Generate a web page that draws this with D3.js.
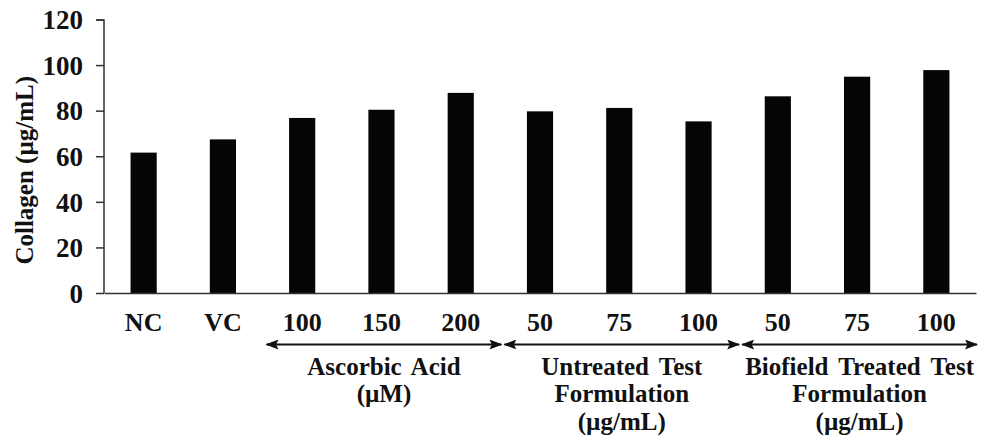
<!DOCTYPE html>
<html lang="en">
  <head>
    <meta charset="utf-8">
    <title>Collagen bar chart</title>
    <script src="https://d3js.org/d3.v7.js"></script>
    <style>
      html, body { margin: 0; padding: 0; background: white; overflow: hidden; }
      svg { display: block; }
      text { font-family: "Liberation Serif", "Times New Roman", serif; font-weight: bold; fill: #111; }
    </style>
  </head>

  <body>
    <script>

      // data
      const categories = ["NC", "VC", "AA100", "AA150", "AA200", "UT50", "UT75", "UT100", "BT50", "BT75", "BT100"];
      const tickLabels = ["NC", "VC", "100", "150", "200", "50", "75", "100", "50", "75", "100"];
      const collagen = [61.6, 67.4, 76.8, 80.4, 87.8, 79.7, 81.2, 75.3, 86.3, 94.9, 97.8];
      const yTicks = [0, 20, 40, 60, 80, 100, 120];

      const groupNames = [["Ascorbic Acid", "(\u00b5M)"],
                          ["Untreated Test", "Formulation", "(\u00b5g/mL)"],
                          ["Biofield Treated Test", "Formulation", "(\u00b5g/mL)"]];
      const groupFirst = ["AA100", "UT50", "BT50"];
      const groupLast = ["AA200", "UT100", "BT100"];

      const w = 989;
      const h = 441;
      const margin = {top: 19.5, right: 13, bottom: 148, left: 104};
      const innerWidth = w - margin.left - margin.right;
      const innerHeight = h - margin.top - margin.bottom;

      const xScale = d3.scaleBand()
                       .domain(categories)
                       .range([0, innerWidth])
                       .paddingInner(0.67)
                       .paddingOuter(0.335);

      const yScale = d3.scaleLinear()
                       .domain([0, 120])
                       .range([innerHeight, 0]);

      const svg = d3.select("body")
                    .append("svg")
                    .attr("width", w)
                    .attr("height", h);

      svg.append("rect")
         .attr("width", w)
         .attr("height", h)
         .attr("fill", "white");

      const plot = svg.append("g")
                      .attr("transform", `translate(${margin.left}, ${margin.top})`);

      // bars
      plot.selectAll("rect.bar")
          .data(categories)
          .enter().append("rect")
          .attr("class", "bar")
          .attr("x", d => xScale(d))
          .attr("y", (d, i) => yScale(collagen[i]))
          .attr("width", xScale.bandwidth())
          .attr("height", (d, i) => innerHeight - yScale(collagen[i]))
          .attr("fill", "#050505");

      // y axis
      const yAxis = d3.axisLeft(yScale)
                      .tickValues(yTicks)
                      .tickSize(8)
                      .tickPadding(13);

      const gy = plot.append("g").call(yAxis);
      gy.select(".domain").attr("stroke", "#333").attr("stroke-width", 1.5).attr("d", `M-8,0.5H0V${innerHeight}`);
      gy.selectAll(".tick line").attr("stroke", "#333").attr("stroke-width", 1.5);
      gy.selectAll(".tick text")
        .style("font-size", "27px")
        .attr("dy", "0.34em");

      // x axis
      const xAxis = d3.axisBottom(xScale)
                      .tickSize(0)
                      .tickPadding(20)
                      .tickFormat((d, i) => tickLabels[i]);

      const gx = plot.append("g")
                     .attr("transform", `translate(0, ${innerHeight})`)
                     .call(xAxis);
      gx.select(".domain").attr("stroke", "#333").attr("stroke-width", 1.5);
      gx.selectAll(".tick text")
        .style("font-size", "26px");

      // y axis title
      svg.append("text")
         .attr("transform", `translate(33, ${margin.top + innerHeight / 2 + 14}) rotate(-90)`)
         .attr("text-anchor", "middle")
         .style("font-size", "25px")
         .text("Collagen (\u00b5g/mL)");

      // group arrows and labels
      const defs = svg.append("defs");
      defs.append("marker")
          .attr("id", "arrow")
          .attr("viewBox", "0 0 13 10")
          .attr("refX", 12)
          .attr("refY", 5)
          .attr("markerWidth", 13)
          .attr("markerHeight", 10)
          .attr("markerUnits", "userSpaceOnUse")
          .attr("orient", "auto-start-reverse")
          .append("path")
          .attr("d", "M0,0L13,5L0,10L2.5,5z")
          .attr("fill", "#111");

      const arrowY = innerHeight + 51.5;
      groupNames.forEach((lines, gi) => {
        const x0 = xScale(groupFirst[gi]) - xScale.step() * xScale.paddingInner() / 2 + 4;
        const x1 = xScale(groupLast[gi]) + xScale.bandwidth() + xScale.step() * xScale.paddingInner() / 2 + 1;
        plot.append("line")
            .attr("x1", x0)
            .attr("x2", x1)
            .attr("y1", arrowY)
            .attr("y2", arrowY)
            .attr("stroke", "#111")
            .attr("stroke-width", 2)
            .attr("marker-start", "url(#arrow)")
            .attr("marker-end", "url(#arrow)");
        const cx = (x0 + x1) / 2;
        lines.forEach((t, li) => {
          plot.append("text")
              .attr("x", cx)
              .attr("y", arrowY + 30 + li * 27.5)
              .attr("text-anchor", "middle")
              .style("font-size", "25px")
              .attr("word-spacing", 4)
              .text(t);
        });
      });

    </script>
  </body>
</html>
